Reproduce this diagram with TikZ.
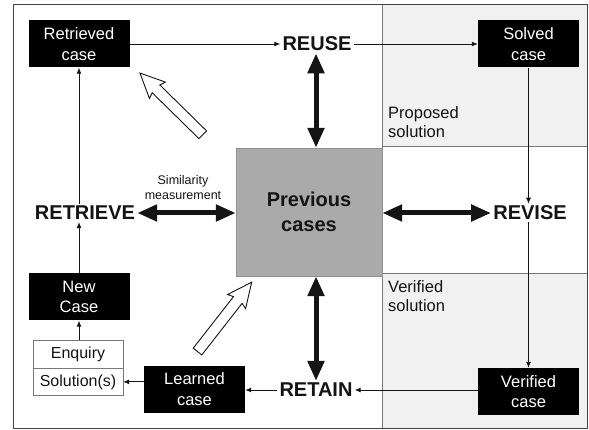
\documentclass[tikz,border=0pt]{standalone}
\usepackage{fontspec}
\setmainfont{Liberation Sans}
\usepackage{tikz}
\usetikzlibrary{shapes,arrows.meta,positioning}
\definecolor{panel}{RGB}{241, 241, 241}
\definecolor{prevgray}{RGB}{170, 170, 170}
\definecolor{rulegray}{RGB}{120, 120, 120}
\definecolor{ink}{RGB}{20, 20, 20}
\tikzstyle{casebox} = [rectangle, fill=black, text=white, align=center, minimum width=101pt, minimum height=47pt, inner sep=0pt, font=\fontsize{16.5}{20.5}\selectfont]
\tikzstyle{inbox} = [rectangle, draw=rulegray, fill=white, text=ink, minimum width=90pt, inner sep=0pt, font=\fontsize{16}{18}\selectfont]
\tikzstyle{phase} = [draw=none, fill=none, text=ink, inner sep=2pt, font=\bfseries\fontsize{20}{22}\selectfont]
\tikzstyle{note} = [align=left, anchor=north west, inner sep=0pt, text=ink, font=\fontsize{16.5}{19.5}\selectfont]
\tikzstyle{tedge} = [draw, ink, line width=0.9pt, -{Latex[length=6pt,width=5pt]}]
\tikzstyle{bigedge} = [draw, ink, line width=5pt, {Triangle[length=20pt,width=16pt]}-{Triangle[length=20pt,width=16pt]}]
\tikzstyle{hollow} = [single arrow, draw=ink, line width=0.9pt, fill=white, minimum width=22pt, minimum height=88pt, inner sep=5pt, single arrow head extend=6pt, single arrow tip angle=50, single arrow head indent=2pt]

\begin{document}
\begin{tikzpicture}[x=1pt, y=-1pt]
\useasboundingbox (0,0) rectangle (589,430);

% panels =============================
\fill[panel] (382,5) rectangle (587,146);
\fill[panel] (382,273) rectangle (587,428);
\draw[rulegray, line width=0.8pt] (382,146) -- (587,146);
\draw[rulegray, line width=0.8pt] (382,273) -- (587,273);
\draw[rulegray, line width=0.8pt] (382,5) -- (382,428);
\draw[ink!80, line width=1pt] (13,5) rectangle (587,428);

% cases =============================
\node[rectangle, fill=prevgray, draw=prevgray!85!black, minimum width=146pt, minimum height=128pt, align=center, text=ink, font=\bfseries\fontsize{20}{25}\selectfont] (prev) at (309,212) {Previous\\cases};
\node[casebox] (ret) at (79,44) {Retrieved\\case};
\node[casebox] (sol) at (528.5,44) {Solved\\case};
\node[casebox] (ver) at (528.5,391.5) {Verified\\case};
\node[casebox] (lrn) at (194.5,389) {Learned\\case};
\node[casebox] (new) at (79,297) {New\\Case};
\node[inbox, minimum height=28pt] (enq) at (78,354) {Enquiry};
\node[inbox, minimum height=27pt, below=0pt of enq] (solu) {Solution(s)};

% phases =============================
\node[phase] (reuse) at (317,44) {REUSE};
\node[phase] (retrieve) at (85,213) {RETRIEVE};
\node[phase] (revise) at (530,213) {REVISE};
\node[phase] (retain) at (316,390) {RETAIN};

% notes =============================
\node[align=center, inner sep=0pt, text=ink, font=\fontsize{12.5}{15}\selectfont] (sim) at (183,188) {Similarity\\measurement};
\node[note] (prop) at (388,106) {Proposed\\solution};
\node[note] (veri) at (388,280) {Verified\\solution};

% hollow arrows =============================
\node[hollow, rotate=135.5] (back) at (175.5,108) {};
\node[hollow, rotate=52] (learn) at (221,321.5) {};

% edges =============================
\path[tedge] (ret.east) -- (reuse.west);
\path[tedge] (reuse.east) -- (sol.west);
\path[tedge] (sol.south) -- (revise.north -| sol.south);
\path[tedge] (revise.south -| ver.north) -- (ver.north);
\path[tedge] (ver.west |- retain.east) -- (retain.east);
\path[tedge] (retain.west) -- (lrn.east |- retain.west);
\path[tedge] (lrn.west |- solu.east) -- (solu.east);
\path[tedge] (enq.north -| new.south) -- (new.south);
\path[tedge] (new.north) -- (new.north |- retrieve.south);
\path[tedge] (retrieve.north -| ret.south) -- (ret.south);

\path[bigedge] (reuse.south -| 316,0) -- (prev.north -| 316,0);
\path[bigedge] (retrieve.east) -- (prev.west |- retrieve.east);
\path[bigedge] (prev.east |- revise.west) -- (revise.west);
\path[bigedge] (retain.north |- prev.south) -- (retain.north);

\end{tikzpicture}
\end{document}
